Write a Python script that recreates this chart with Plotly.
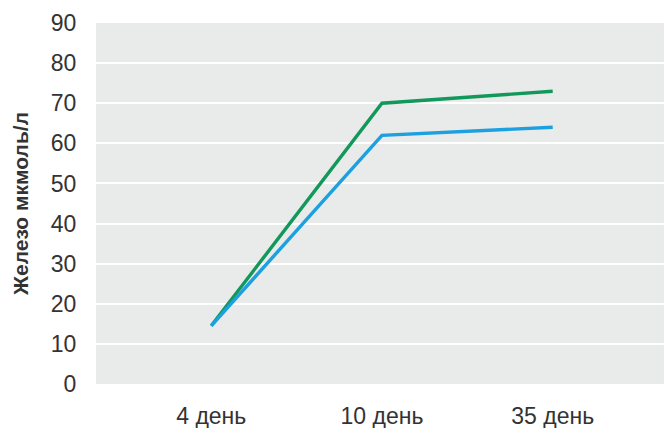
import plotly.graph_objects as go

categories = ["4 день", "10 день", "35 день"]
green_values = [14.5, 70, 73]
blue_values = [14.5, 62, 64]
y_ticks = [0, 10, 20, 30, 40, 50, 60, 70, 80, 90]

fig = go.Figure()
fig.add_trace(go.Scatter(x=[0, 1, 2], y=green_values, mode="lines",
                         line=dict(color="#12985a", width=3.4), showlegend=False))
fig.add_trace(go.Scatter(x=[0, 1, 2], y=blue_values, mode="lines",
                         line=dict(color="#1ca0e0", width=3.4), showlegend=False))

fig.update_layout(
    width=664, height=428,
    margin=dict(l=96, r=0, t=23, b=44),
    paper_bgcolor="white",
    plot_bgcolor="#e9eaea",
    font=dict(family="Liberation Sans, Arial", color="#333333", size=23),
    xaxis=dict(tickvals=[0, 1, 2], ticktext=categories, range=[-0.675, 2.652],
               showgrid=False, zeroline=False, showline=False, ticks="outside",
               ticklen=11, tickcolor="rgba(0,0,0,0)", tickfont=dict(size=23),
               automargin=False),
    yaxis=dict(range=[0, 90], tickvals=y_ticks, showgrid=True, gridcolor="white",
               gridwidth=2, zeroline=False, showline=False, ticks="outside",
               ticklen=14, tickcolor="rgba(0,0,0,0)", tickfont=dict(size=23),
               automargin=False,
               title=dict(text="<b>Железо мкмоль/л</b>", font=dict(size=21), standoff=16)),
)

fig.write_html("out.html", config={"displayModeBar": False},
               post_script="document.body.style.margin='0';document.body.style.overflow='hidden';")
